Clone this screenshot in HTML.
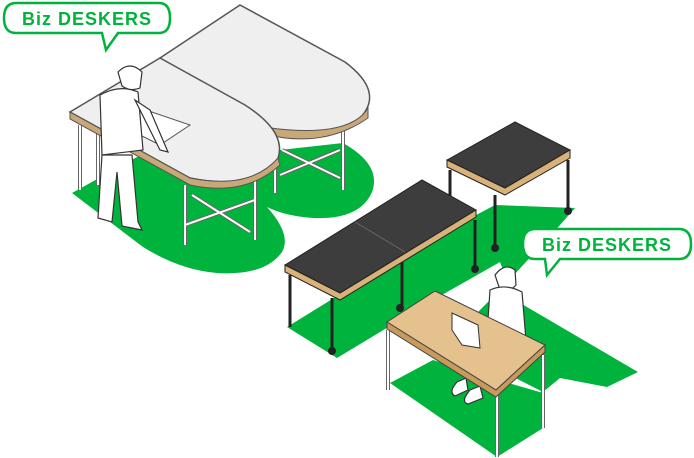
<!DOCTYPE html>
<html><head><meta charset="utf-8"><style>
html,body{margin:0;padding:0;background:#fff;}
svg{display:block;}
text{font-family:"Liberation Sans",sans-serif;font-weight:bold;}
</style></head><body>
<svg width="694" height="458" viewBox="0 0 694 458">
<!-- green floors -->
<path fill="#00b33c" d="M72,193 L137,157 L200,140 L280,150 L343,143 Q382,165 372,192 Q360,220 313,218 Q285,216 267,207 Q292,235 282,252 Q265,276 217,273 Q180,270 143,247 Z"/>
<g fill="#00b33c">
<polygon points="287,327 337,358 433,300 500,262 515,300 638,372 607,387 560,378 543,392 480,360 460,330 500,290 560,225 575,208 495,205 420,245"/>
<polygon points="390,383 433,360 470,372 543,393 543,428 497,457"/>
</g>
<!-- white tables legs -->
<g stroke="#666" stroke-width="4" fill="none">
<line x1="80" y1="125" x2="80" y2="190"/><line x1="98" y1="130" x2="98" y2="185"/>
<line x1="185" y1="185" x2="185" y2="245"/><line x1="255" y1="175" x2="255" y2="240"/>
<line x1="185" y1="225" x2="255" y2="200"/><line x1="192" y1="195" x2="250" y2="232"/>
<line x1="275" y1="135" x2="275" y2="193"/><line x1="343" y1="130" x2="343" y2="190"/>
<line x1="280" y1="175" x2="340" y2="150"/><line x1="282" y1="150" x2="340" y2="178"/>
</g>
<g stroke="#fff" stroke-width="2" fill="none">
<line x1="80" y1="125" x2="80" y2="190"/><line x1="98" y1="130" x2="98" y2="185"/>
<line x1="185" y1="185" x2="185" y2="245"/><line x1="255" y1="175" x2="255" y2="240"/>
<line x1="185" y1="225" x2="255" y2="200"/><line x1="192" y1="195" x2="250" y2="232"/>
<line x1="275" y1="135" x2="275" y2="193"/><line x1="343" y1="130" x2="343" y2="190"/>
<line x1="280" y1="175" x2="340" y2="150"/><line x1="282" y1="150" x2="340" y2="178"/>
</g>
<!-- white tables -->
<path fill="#efefef" stroke="#555" stroke-width="1.5" d="M160,58 L240,5 L345,62 Q385,92 360,118 Q325,140 270,128 L215,100 Z"/>
<path d="M268,128 L268,135 Q325,148 368,118 L368,108 Q350,138 270,128" fill="#c9a878" stroke="#555" stroke-width="1"/>
<path fill="#efefef" stroke="#555" stroke-width="1.5" d="M70,112 L160,58 L245,105 Q292,135 275,165 Q250,190 190,178 Z"/>
<path d="M70,112 L70,119 L190,185 Q245,197 280,165 L278,158 Q250,190 190,178 Z" fill="#c9a878" stroke="#555" stroke-width="1"/>
<polygon points="140,108 190,125 160,145 130,130" fill="#fff" stroke="#555"/>
<!-- dark tables -->
<g stroke="#222" stroke-width="3">
<line x1="450" y1="170" x2="450" y2="198"/><line x1="568" y1="160" x2="568" y2="210"/><line x1="495" y1="195" x2="495" y2="248"/>
<line x1="290" y1="275" x2="290" y2="327"/><line x1="332" y1="298" x2="332" y2="350"/><line x1="475" y1="220" x2="475" y2="268"/><line x1="402" y1="262" x2="402" y2="305"/>
</g>
<g fill="#222"><circle cx="568" cy="211" r="4"/><circle cx="495" cy="248" r="4"/><circle cx="332" cy="351" r="4"/><circle cx="475" cy="269" r="4"/><circle cx="400" cy="308" r="4"/></g>
<path fill="#3d3d3d" stroke="#222" d="M447,160 L515,122 L570,150 L505,188 Z"/>
<path d="M447,160 L447,167 L505,195 L570,158 L570,150 L505,188 Z" fill="#d9b27a" stroke="#222"/>
<path fill="#3d3d3d" stroke="#222" d="M285,265 L422,180 L476,210 L340,293 Z"/>
<path d="M285,265 L285,272 L340,300 L476,217 L476,210 L340,293 Z" fill="#d9b27a" stroke="#222"/>
<line x1="355" y1="222" x2="405" y2="252" stroke="#666"/>
<!-- wooden table legs -->
<g stroke="#666" stroke-width="4">
<line x1="388" y1="330" x2="388" y2="390"/><line x1="497" y1="390" x2="497" y2="457"/><line x1="543" y1="355" x2="543" y2="428"/>
</g>
<g stroke="#fff" stroke-width="2">
<line x1="388" y1="330" x2="388" y2="390"/><line x1="497" y1="390" x2="497" y2="457"/><line x1="543" y1="355" x2="543" y2="428"/>
</g>
<!-- person seated -->
<g fill="#fff" stroke="#333" stroke-width="1.2">
<path d="M495,275 Q505,262 515,270 L516,285 Q510,292 500,290 Z"/>
<path d="M490,290 Q505,283 522,292 L526,340 L500,340 L488,320 Z"/>
<path d="M457,382 Q448,392 455,396 L468,390 L466,378 Z"/>
<path d="M470,390 Q460,402 468,404 L483,398 L480,386 Z"/>
</g>
<!-- wooden table -->
<path fill="#e5c28d" stroke="#444" d="M387,322 L435,291 L545,345 L496,390 Z"/>
<path d="M387,322 L387,329 L496,397 L545,352 L545,345 L496,390 Z" fill="#c89a5c" stroke="#444"/>
<!-- laptop -->
<polygon points="452,313 478,325 480,348 462,345 452,330" fill="#fff" stroke="#333"/>
<!-- person standing -->
<g fill="#fff" stroke="#333" stroke-width="1.2">
<path d="M118,72 Q130,60 142,72 L140,88 Q130,92 122,86 Z"/>
<path d="M100,95 Q120,84 138,92 L143,150 L102,155 Z"/>
<path d="M102,155 L98,218 L112,222 L117,172 L122,226 L142,230 L138,222 L132,155 Z"/>
<path d="M135,100 L160,150 L168,152 L150,110 Z"/>
</g>
<!-- speech bubbles -->
<g>
<path d="M16,3 H159 Q170,3 170,18 Q170,33 159,33 H118 L106,50 L102,33 H16 Q4,33 4,18 Q4,3 16,3 Z" fill="#fff" stroke="#00b33c" stroke-width="2.5"/>
<text x="87" y="25" font-size="18" fill="#00b33c" text-anchor="middle" letter-spacing="1">Biz DESKERS</text>
</g>
<g>
<path d="M535,229 H679 Q691,229 691,244 Q691,259 679,259 H560 L547,275 L545,259 H535 Q523,259 523,244 Q523,229 535,229 Z" fill="#fff" stroke="#00b33c" stroke-width="2.5"/>
<text x="607" y="251" font-size="18" fill="#00b33c" text-anchor="middle" letter-spacing="1">Biz DESKERS</text>
</g>
</svg>
</body></html>
